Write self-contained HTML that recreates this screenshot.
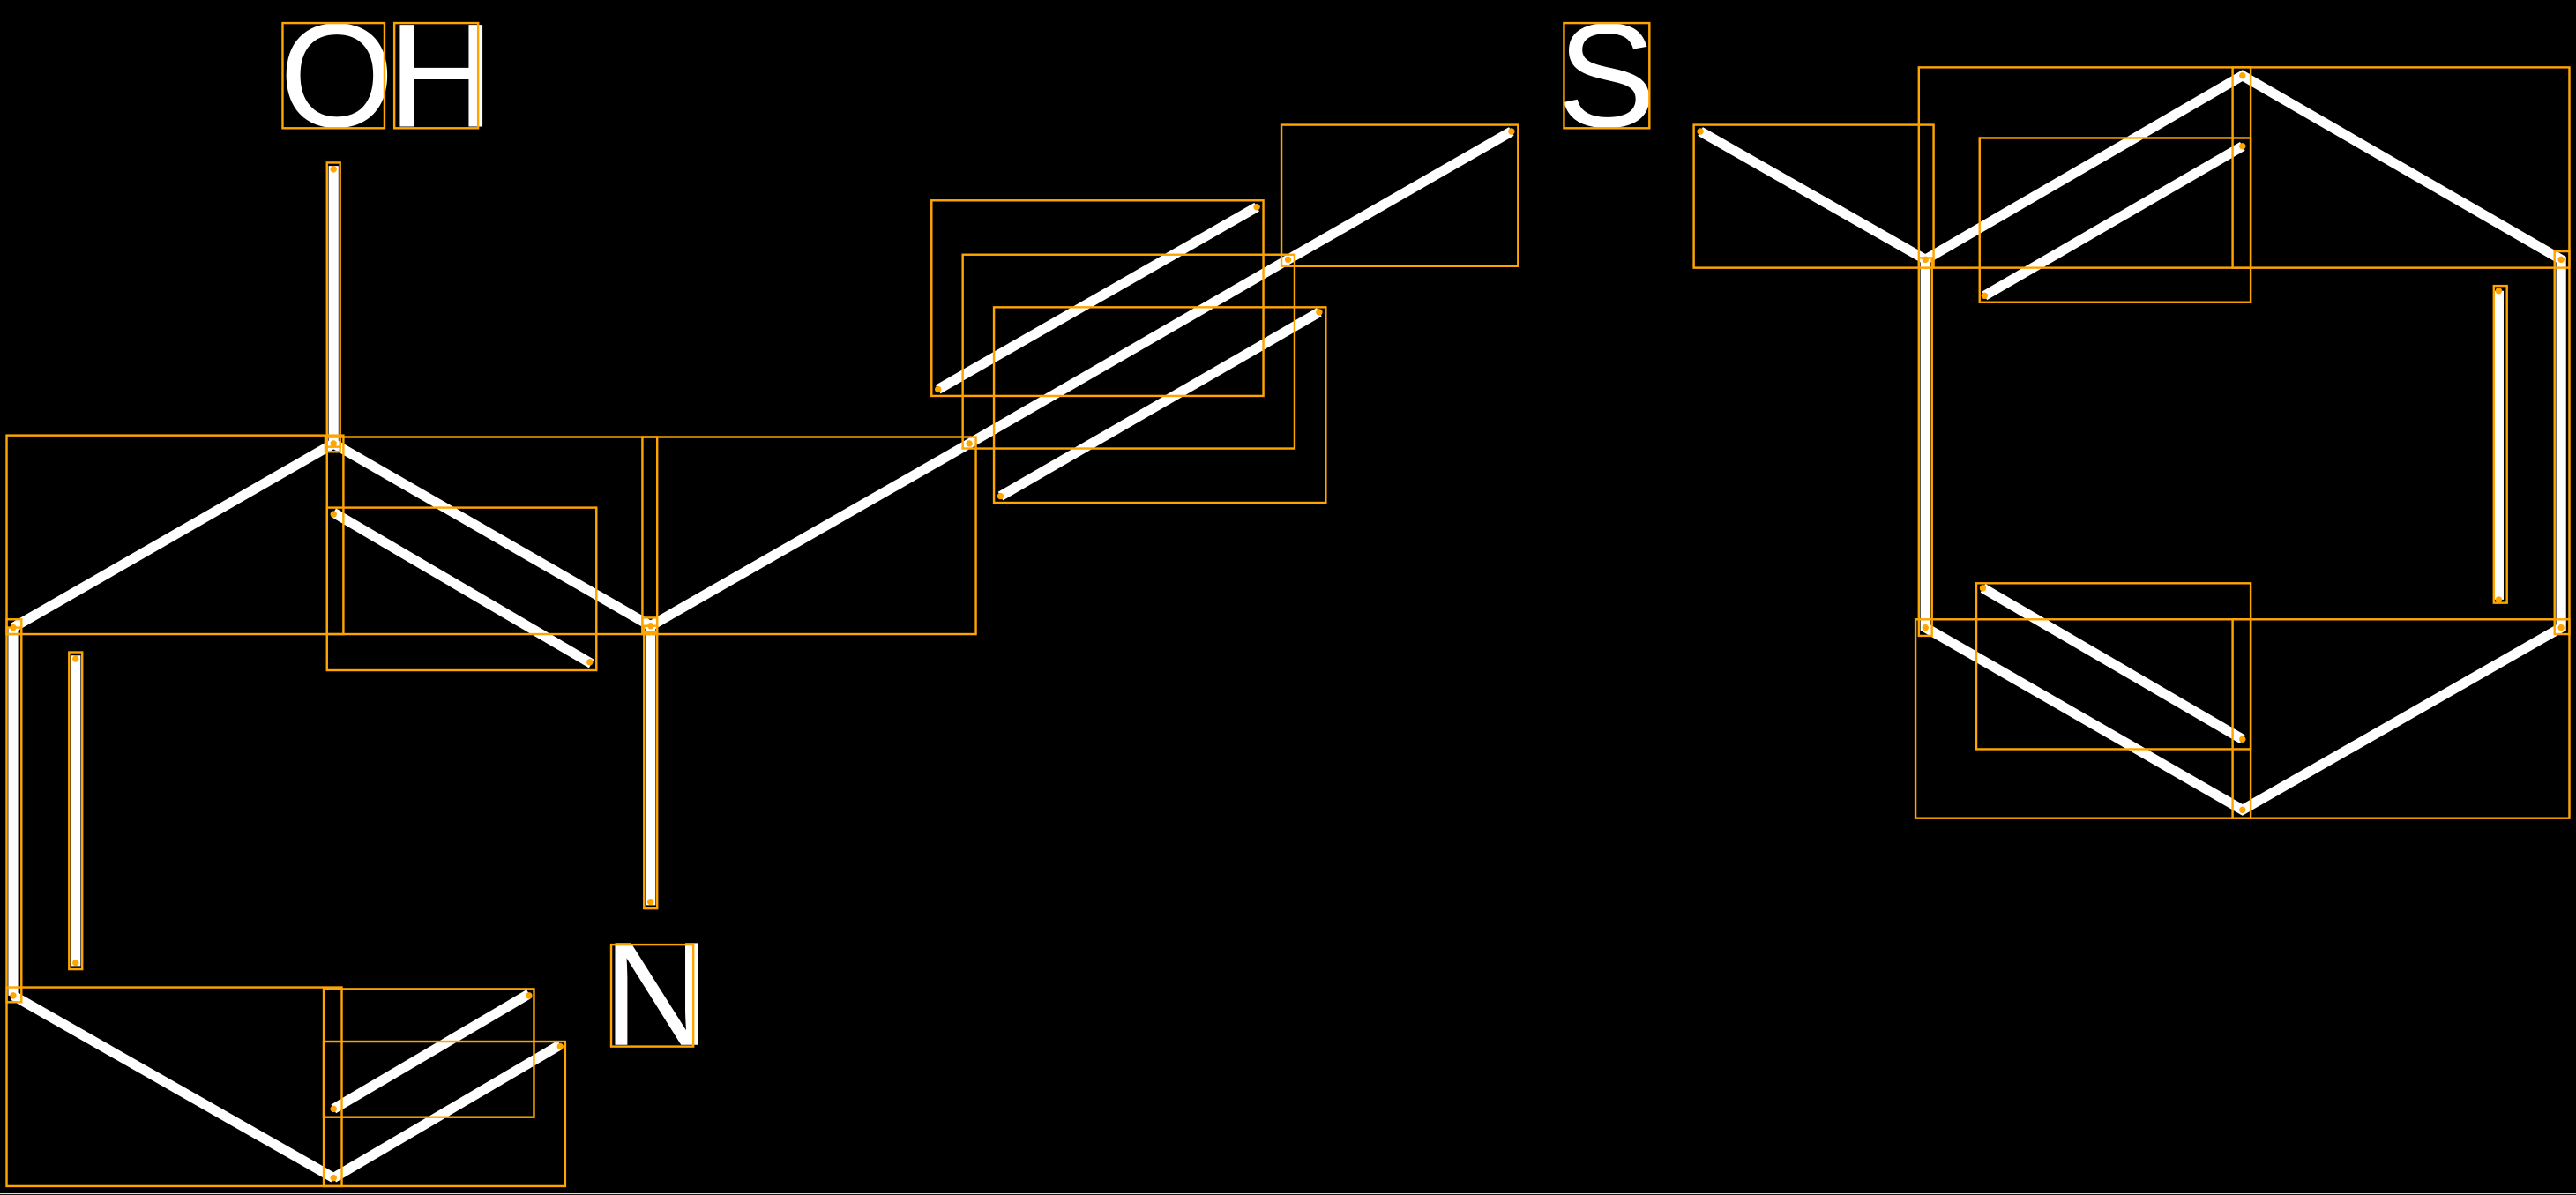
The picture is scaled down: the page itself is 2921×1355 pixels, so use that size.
<!DOCTYPE html>
<html><head><meta charset="utf-8"><style>html,body{margin:0;padding:0;background:#000;}svg{display:block}</style></head>
<body>
<svg width="2921" height="1355" viewBox="0 0 1568 727.4" xmlns="http://www.w3.org/2000/svg">
<rect width="1568" height="727.4" fill="#000"/>
<g stroke="#fff" stroke-width="6" stroke-linecap="butt" fill="none">
<line x1="203" y1="101" x2="203" y2="270"/>
<line x1="8" y1="382" x2="203" y2="270"/>
<line x1="203" y1="270" x2="396" y2="381"/>
<line x1="203" y1="312" x2="360" y2="404"/>
<line x1="396" y1="381" x2="396" y2="551"/>
<line x1="8" y1="382" x2="8" y2="606"/>
<line x1="46" y1="399" x2="46" y2="588"/>
<line x1="8" y1="606" x2="203" y2="717"/>
<line x1="203" y1="717" x2="341" y2="636"/>
<line x1="203" y1="675" x2="322" y2="605"/>
<line x1="396" y1="381" x2="590" y2="270"/>
<line x1="590" y1="270" x2="784" y2="158"/>
<line x1="571" y1="237" x2="765" y2="126"/>
<line x1="609" y1="302" x2="803" y2="190"/>
<line x1="784" y1="158" x2="920" y2="80"/>
<line x1="1035" y1="80" x2="1172" y2="158"/>
<polygon points="1172,158 1365,46 1559,158 1559,382 1365,493 1172,382"/>
<line x1="1208" y1="180" x2="1365" y2="89"/>
<line x1="1521" y1="177" x2="1521" y2="365"/>
<line x1="1207" y1="358" x2="1365" y2="450"/>
</g>
<g fill="#fff" font-family="Liberation Sans, sans-serif" font-size="90">
<text x="170" y="77">O</text>
<text x="236" y="77">H</text>
<text x="948" y="77">S</text>
<text x="367" y="636">N</text>
</g>
<g stroke="#FFA500" stroke-width="1.3" fill="none">
<rect x="172" y="14" width="62" height="64"/>
<rect x="240" y="14" width="51" height="64"/>
<rect x="952" y="14" width="52" height="64"/>
<rect x="372" y="575" width="50" height="62"/>
<rect x="199" y="99" width="8" height="173"/>
<rect x="4" y="265" width="205" height="121"/>
<rect x="199" y="266" width="201" height="120"/>
<rect x="199" y="309" width="164" height="99"/>
<rect x="391" y="266" width="203" height="120"/>
<rect x="392" y="381" width="8" height="172"/>
<rect x="567" y="122" width="202" height="119"/>
<rect x="586" y="155" width="202" height="118"/>
<rect x="605" y="187" width="202" height="119"/>
<rect x="780" y="76" width="144" height="86"/>
<rect x="1031" y="76" width="146" height="87"/>
<rect x="1168" y="41" width="202" height="122"/>
<rect x="1359" y="41" width="205" height="122"/>
<rect x="1205" y="84" width="165" height="100"/>
<rect x="1555" y="153" width="9" height="233"/>
<rect x="1168" y="157" width="8" height="230"/>
<rect x="1518" y="174" width="8" height="193"/>
<rect x="1166" y="377" width="204" height="121"/>
<rect x="1359" y="377" width="205" height="121"/>
<rect x="1203" y="355" width="167" height="101"/>
<rect x="4" y="382" width="9" height="228"/>
<rect x="42" y="397" width="8" height="193"/>
<rect x="4" y="601" width="204" height="121"/>
<rect x="197" y="602" width="128" height="78"/>
<rect x="197" y="634" width="147" height="88"/>
<rect x="198" y="266" width="9" height="9"/>
<rect x="391" y="376" width="9" height="9"/>
<rect x="4" y="377" width="9" height="9"/>
</g>
<g fill="#FFA500">
<circle cx="203" cy="103" r="2"/><circle cx="203" cy="270" r="2"/><circle cx="8" cy="382" r="2"/>
<circle cx="396" cy="381" r="2"/><circle cx="396" cy="549" r="2"/><circle cx="46" cy="401" r="2"/>
<circle cx="46" cy="586" r="2"/><circle cx="8" cy="606" r="2"/><circle cx="203" cy="717" r="2"/>
<circle cx="341" cy="637" r="2"/><circle cx="322" cy="606" r="2"/><circle cx="203" cy="675" r="2"/>
<circle cx="203" cy="313" r="2"/><circle cx="359" cy="403" r="2"/><circle cx="590" cy="270" r="2"/>
<circle cx="784" cy="158" r="2"/><circle cx="571" cy="237" r="2"/><circle cx="765" cy="126" r="2"/>
<circle cx="609" cy="302" r="2"/><circle cx="803" cy="190" r="2"/><circle cx="920" cy="80" r="2"/>
<circle cx="1035" cy="80" r="2"/><circle cx="1172" cy="158" r="2"/><circle cx="1365" cy="46" r="2"/>
<circle cx="1559" cy="158" r="2"/><circle cx="1559" cy="382" r="2"/><circle cx="1365" cy="493" r="2"/>
<circle cx="1172" cy="382" r="2"/><circle cx="1208" cy="180" r="2"/><circle cx="1365" cy="89" r="2"/>
<circle cx="1521" cy="177" r="2"/><circle cx="1521" cy="365" r="2"/><circle cx="1207" cy="358" r="2"/>
<circle cx="1365" cy="450" r="2"/>
</g>
<line x1="0" y1="726.6" x2="1568" y2="726.6" stroke="#ddd" stroke-width="0.6"/>
</svg>
</body></html>
